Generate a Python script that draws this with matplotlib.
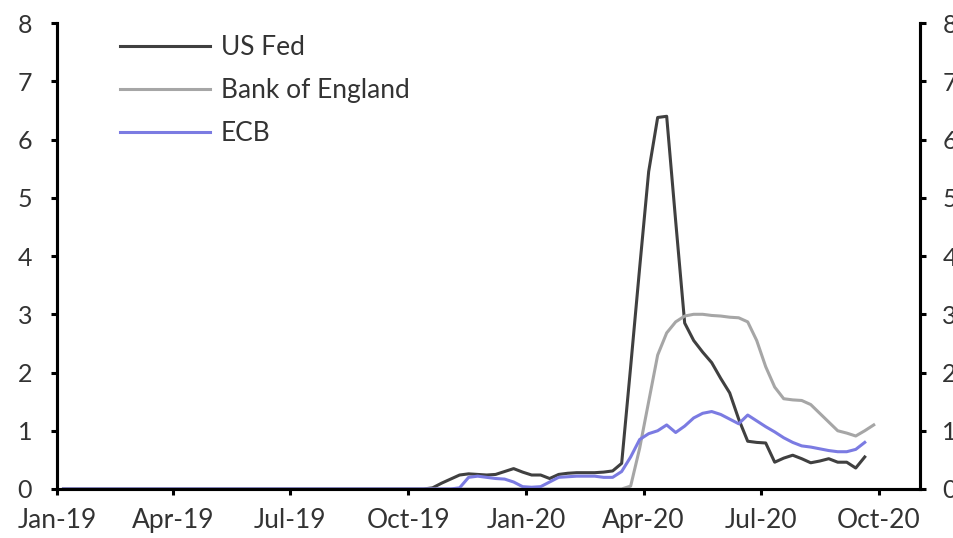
import numpy as np
import pandas as pd
import matplotlib
matplotlib.use("Agg")
from matplotlib import pyplot as plt
import matplotlib.dates as mdates

plt.rcParams['font.family'] = ['Lato', 'DejaVu Sans']

# tygodniowe dane od 6 stycznia 2019
daty = pd.date_range('2019-01-06', periods=91, freq='7D')

# US Fed (zero do końca października 2019)
us_fed = [0.0] * 41 + [
    0.02, 0.10, 0.17, 0.24, 0.26, 0.25, 0.24, 0.25, 0.30, 0.35,
    0.29, 0.24, 0.24, 0.18, 0.25, 0.27, 0.28, 0.28, 0.28, 0.29,
    0.31, 0.44, 2.10, 3.80, 5.45, 6.38, 6.40, 4.60, 2.85, 2.55,
    2.35, 2.17, 1.90, 1.65, 1.20, 0.82, 0.80, 0.79, 0.46, 0.53,
    0.58, 0.52, 0.45, 0.48, 0.52, 0.46, 0.46, 0.36, 0.55, np.nan]

# Bank of England
boe = [0.0] * 63 + [
    0.05, 0.70, 1.50, 2.30, 2.68, 2.87, 2.97, 3.00, 3.00, 2.98,
    2.97, 2.95, 2.94, 2.87, 2.55, 2.10, 1.75, 1.55, 1.53, 1.52,
    1.45, 1.30, 1.15, 1.00, 0.96, 0.91, 1.00, 1.10]

# ECB
ecb = [0.0] * 44 + [
    0.02, 0.20, 0.22, 0.20, 0.18, 0.17, 0.12, 0.04, 0.03, 0.04,
    0.12, 0.20, 0.21, 0.22, 0.22, 0.22, 0.20, 0.20, 0.30, 0.55,
    0.85, 0.95, 1.00, 1.10, 0.97, 1.08, 1.22, 1.30, 1.33, 1.28,
    1.20, 1.12, 1.27, 1.17, 1.07, 0.98, 0.88, 0.80, 0.74, 0.72,
    0.69, 0.66, 0.64, 0.64, 0.68, 0.80, np.nan]

fig = plt.figure(figsize=(9.54, 5.38), dpi=100)
ax = fig.add_axes([0.0598, 0.0911, 0.9046, 0.8659])

ax.plot(daty, us_fed, color='#404040', lw=2.2, label='US Fed')
ax.plot(daty, boe, color='#a6a6a6', lw=2.2, label='Bank of England')
ax.plot(daty, ecb, color='#7b7be2', lw=2.2, label='ECB')

ax.set_ylim(0, 8)
ax.set_xlim(pd.Timestamp('2019-01-01'), pd.Timestamp('2020-11-02'))
ax.xaxis.set_major_locator(mdates.MonthLocator(bymonth=[1, 4, 7, 10]))
ax.xaxis.set_major_formatter(mdates.DateFormatter('%b-%y'))
ax.set_yticks(range(0, 9))

# prawa oś (ucięte etykiety jak w oryginale)
ax2 = ax.twinx()
ax2.set_ylim(0, 8)
ax2.set_yticks(range(0, 9))

for a in (ax, ax2):
    a.spines['top'].set_visible(False)
    for s in ('left', 'right', 'bottom'):
        a.spines[s].set_linewidth(2.2)
    a.tick_params(direction='out', length=4, width=2.2, labelsize=18,
                  labelcolor='#333333')
ax.tick_params(axis='y', pad=14)
ax.tick_params(axis='x', labelsize=19, pad=10)
ax2.tick_params(axis='y', pad=12)

leg = ax.legend(loc='upper left', bbox_to_anchor=(0.046, 1.025), frameon=False,
                fontsize=19, handlelength=3.4, handletextpad=0.4,
                labelspacing=0.68)
for t in leg.get_texts():
    t.set_color('#333333')

fig.savefig('out.png', dpi=100)
